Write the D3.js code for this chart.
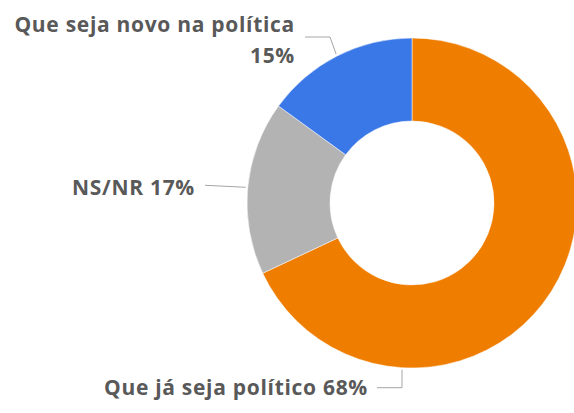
<!DOCTYPE html>
<html>
<head>
<meta charset="utf-8">
<script src="https://cdn.jsdelivr.net/npm/d3@7"></script>
<style>
  html, body { margin: 0; padding: 0; background: #fff; }
  text { font-family: "Open Sans", "Noto Sans", sans-serif; font-weight: 700; fill: #595959; letter-spacing: 0.7px; }
</style>
</head>
<body>
<script>
var categories = ["Que já seja político", "NS/NR", "Que seja novo na política"];
var values = [68, 17, 15];
var colors = ["#EF7D00", "#B3B3B3", "#3B78E7"];

var width = 574,
    height = 413,
    cx = 412,
    cy = 203,
    outerR = 165,
    innerR = 82,
    fontSize = 21;

var svg = d3.select("body").append("svg")
    .attr("width", width)
    .attr("height", height);

var g = svg.append("g")
    .attr("transform", "translate(" + cx + "," + cy + ")");

var pie = d3.pie().sort(null).value(function(d) { return d; });
var arc = d3.arc().innerRadius(innerR).outerRadius(outerR);

var arcs = pie(values);

g.selectAll(".slice")
    .data(arcs)
    .enter().append("path")
    .attr("class", "slice")
    .attr("d", arc)
    .attr("fill", function(d, i) { return colors[i]; })
    .attr("stroke", "#fff")
    .attr("stroke-width", 0.5);

// ponto na borda externa de uma fatia
function edge(a, r) {
  return [cx + r * Math.sin(a), cy - r * Math.cos(a)];
}

// rótulos: linha guia + texto
var lineColor = "#A6A6A6";
function leader(pts) {
  svg.append("polyline")
      .attr("points", pts.map(function(p) { return p.join(","); }).join(" "))
      .attr("fill", "none")
      .attr("stroke", lineColor)
      .attr("stroke-width", 1);
}

// laranja: rótulo embaixo
var pOr = edge(Math.PI + 0.06, outerR + 2);
leader([[377, pOr[1] + 18], [pOr[0], pOr[1] + 18], pOr]);
svg.append("text")
    .attr("x", 368).attr("y", 395)
    .attr("text-anchor", "end")
    .attr("font-size", fontSize)
    .text(categories[0] + " " + values[0] + "%");

// cinza
var aGr = (arcs[1].startAngle + arcs[1].endAngle) / 2;
var pGr = edge(aGr, outerR + 2);
leader([[205, pGr[1] - 2], pGr]);
svg.append("text")
    .attr("x", 195).attr("y", 195)
    .attr("text-anchor", "end")
    .attr("font-size", fontSize)
    .text(categories[1] + " " + values[1] + "%");

// azul
var aBl = (arcs[2].startAngle + arcs[2].endAngle) / 2;
var pBl = edge(aBl, outerR + 2);
leader([[305, 37], [330, 37], pBl]);
var tBl = svg.append("text")
    .attr("text-anchor", "end")
    .attr("font-size", fontSize);
tBl.append("tspan").attr("x", 295).attr("y", 32).text(categories[2]);
tBl.append("tspan").attr("x", 295).attr("y", 63).text(values[2] + "%");
</script>
</body>
</html>
